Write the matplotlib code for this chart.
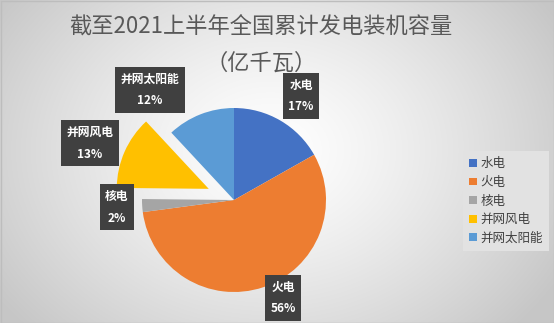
import numpy as np
import matplotlib.pyplot as plt
from matplotlib.patches import Patch, Rectangle

plt.rcParams['font.family'] = ['Noto Sans CJK SC', 'DejaVu Sans']

title = "截至2021上半年全国累计发电装机容量\n（亿千瓦）"
categories = ["水电", "火电", "核电", "并网风电", "并网太阳能"]
values = [3.78, 12.6, 0.51, 2.9, 2.68]   # 亿千瓦
pct_labels = ["17%", "56%", "2%", "13%", "12%"]
colors = ["#4472C4", "#ED7D31", "#A5A5A5", "#FFC000", "#5B9BD5"]
explode = [0, 0, 0, 0.3, 0]

W, H = 554, 323
fig = plt.figure(figsize=(W / 100, H / 100), dpi=100)

# background gradient
bg = fig.add_axes([0, 0, 1, 1])
yy, xx = np.mgrid[0:H, 0:W]
d = np.sqrt(((xx - 270) / 330.0) ** 2 + ((yy - 150) / 260.0) ** 2)
g = np.clip(1.0 - 0.22 * d ** 1.3, 0.78, 1.0)
bg.imshow(np.dstack([g, g, g]), extent=[0, W, H, 0], aspect='auto')
bg.add_patch(Rectangle((0.5, 0.5), W - 1, H - 1, fill=False, ec='#bdbdbd', lw=1))
bg.set_xlim(0, W)
bg.set_ylim(H, 0)
bg.axis('off')

fig.text(261 / W, 1 - 45 / H, title, ha='center', va='center', fontsize=16,
         color='#595959', linespacing=1.75, fontweight='medium')

# pie
cx, cy, R = 234, 200, 92
k = 1.6
ax = fig.add_axes([(cx - R * k) / W, (H - cy - R * k) / H, 2 * R * k / W, 2 * R * k / H])
wedges, _ = ax.pie(values, colors=colors, startangle=90, counterclock=False,
                   explode=explode, radius=1.0,
                   wedgeprops=dict(linewidth=0))
ax.set_xlim(-k, k)
ax.set_ylim(-k, k)
ax.set_aspect('equal')
ax.axis('off')

# callout labels (pixel positions of label centres)
label_pos = [(301, 96), (283, 298), (117, 207), (90, 143), (150, 90)]
for name, pct, (px, py) in zip(categories, pct_labels, label_pos):
    fig.text(px / W, 1 - py / H, name + "\n" + pct, ha='center', va='center',
             fontsize=8.5, color='white', fontweight='bold', linespacing=1.9,
             bbox=dict(boxstyle='square,pad=0.45', fc='#404040', ec='none'))

handles = [Patch(facecolor=c, edgecolor='none') for c in colors]
fig.legend(handles, categories, loc='center', bbox_to_anchor=(506 / W, 1 - 201 / H),
           frameon=True, facecolor='#e2e2e2', edgecolor='none', framealpha=1,
           fancybox=False, fontsize=9, labelcolor='#404040',
           handlelength=0.6, handleheight=0.6, handletextpad=0.3,
           labelspacing=0.45, borderpad=0.5)

fig.savefig("out.png", dpi=100)
